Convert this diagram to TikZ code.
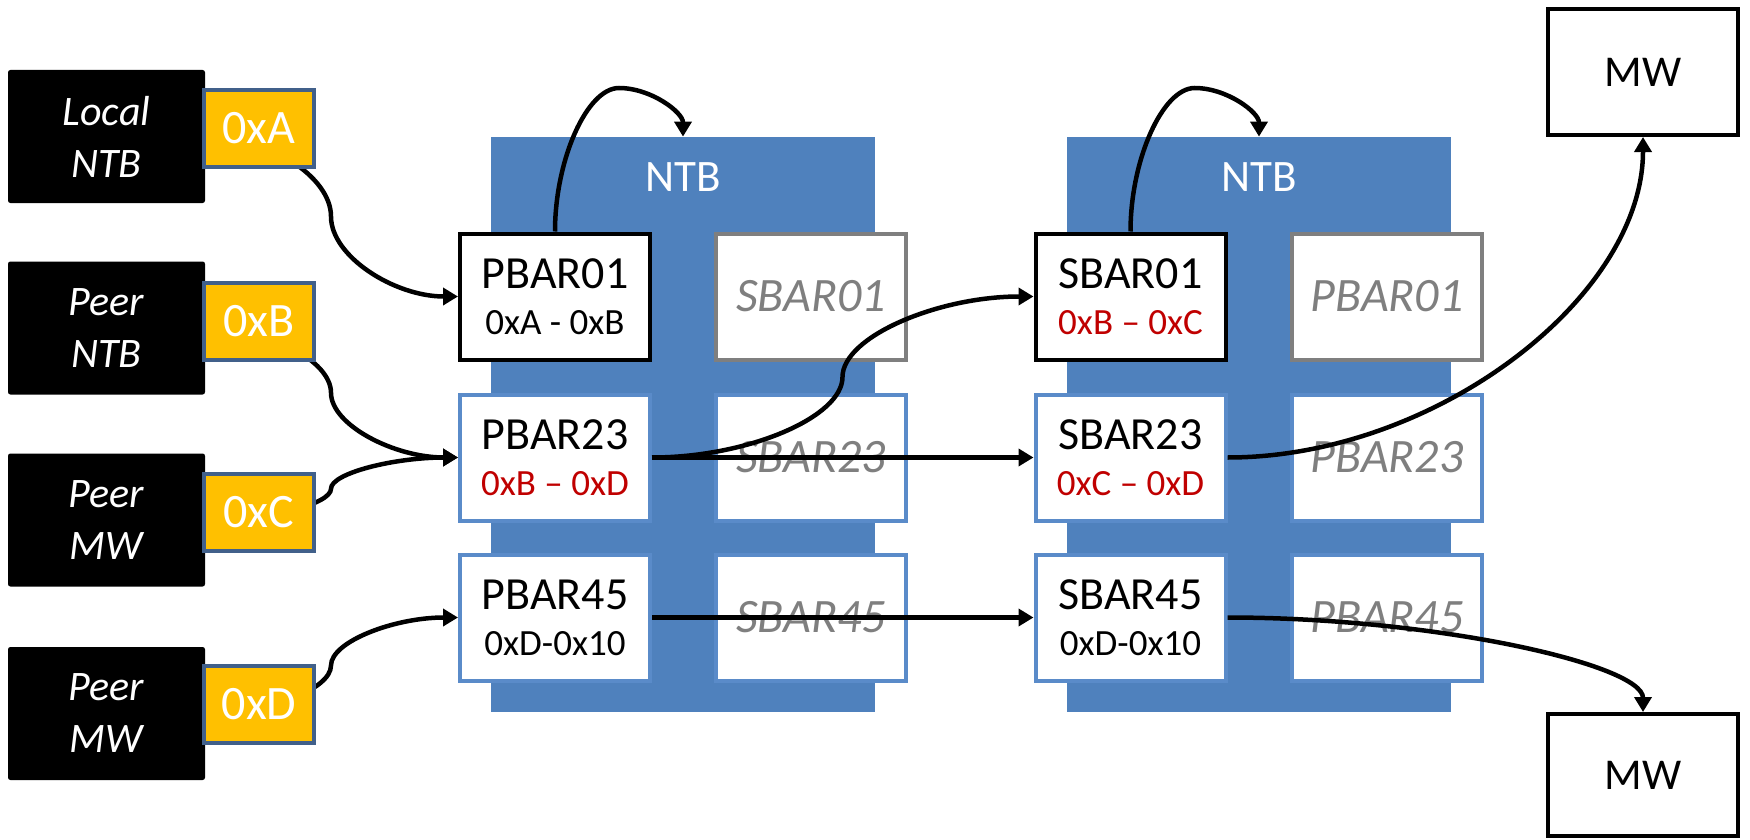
\documentclass[tikz,border=0pt]{standalone}
\usepackage{fontspec}
\setmainfont{Carlito}
\usetikzlibrary{arrows.meta,calc}

\definecolor{ntbblue}{HTML}{4F81BD}
\definecolor{barblue}{HTML}{5A8BC9}
\definecolor{addrred}{HTML}{C00000}
\definecolor{tagyellow}{HTML}{FFC000}
\definecolor{tagedge}{HTML}{41608A}
\definecolor{ghost}{HTML}{7F7F7F}

% S-shaped elbow: horizontal at both ends, vertical through the x of #3
\newcommand{\sbendconn}[3]{%
  \draw[conn] let \p1=(#1), \p2=(#2), \p3=(#3) in
    (\p1) .. controls ({(\x1+\x3)/2},\y1) and (\x3,{0.75*\y1+0.25*\y2})
          .. (\x3,{0.5*\y1+0.5*\y2})
          .. controls (\x3,{0.25*\y1+0.75*\y2}) and ({(\x3+\x2)/2},\y2)
          .. (\p2);}
% Arch: leaves upwards, peaks at the y of #3, comes down into the target
\newcommand{\archconn}[3]{%
  \draw[conn] let \p1=(#1), \p2=(#2), \p3=(#3) in
    (\p1) .. controls (\x1,{0.5*\y1+0.5*\y3}) and ({0.75*\x1+0.25*\x2},\y3)
          .. ({0.5*\x1+0.5*\x2},\y3)
          .. controls ({0.25*\x1+0.75*\x2},\y3) and (\x2,{0.5*\y2+0.5*\y3})
          .. (\p2);}
% Quarter bend: leaves horizontally, enters the target vertically
\newcommand{\quarterconn}[2]{%
  \draw[conn] let \p1=(#1), \p2=(#2) in
    (\p1) .. controls ({0.5*\x1+0.5*\x2},\y1) and (\x2,{0.5*\y1+0.5*\y2}) .. (\p2);}
% second line of a BAR box: the address range
\newcommand{\rangeline}{\fontsize{18.5}{23}\selectfont}

\begin{document}
\begin{tikzpicture}[x=0.5pt,y=-0.5pt,
  conn/.style={line width=2.25pt,-{Triangle[length=7.5pt,width=8.5pt]}},
  host/.style={fill=black,rounded corners=1.2pt,minimum width=98.5pt,
    minimum height=66.5pt,inner sep=0pt,text=white,align=center,
    font=\fontsize{21}{26}\selectfont\itshape},
  tag/.style={fill=tagyellow,draw=tagedge,line width=2pt,minimum width=55pt,
    minimum height=38.5pt,inner sep=0pt,text=white,
    font=\fontsize{24}{28}\selectfont},
  ntbbox/.style={fill=ntbblue,minimum width=192pt,minimum height=287.5pt,
    inner sep=0pt},
  ntblabel/.style={text=white,inner sep=0pt,font=\fontsize{22.5}{26}\selectfont},
  barbox/.style={fill=white,line width=2pt,minimum width=95pt,
    minimum height=63pt,inner sep=0pt,align=center,
    font=\fontsize{23}{23}\selectfont},
  usedbar/.style={barbox,draw=black},
  openbar/.style={barbox,draw=barblue},
  ghostbar/.style={barbox,draw=ghost},
  ghosttext/.style={text=ghost,font=\fontsize{24}{28}\selectfont\itshape},
  twoline/.style={text depth=1.5pt},
  mwbox/.style={draw=black,fill=white,line width=2pt,minimum width=95pt,
    minimum height=63pt,inner sep=0pt,font=\fontsize{22}{26}\selectfont},
]
\useasboundingbox (0,0) rectangle (1750,840);
\fill[white] (0,0) rectangle (1750,840);

% host windows on the left
\node[host] (lb1) at (106.5,136.5) {Local\\NTB};
\node[host] (lb2) at (106.5,328)   {Peer\\NTB};
\node[host] (lb3) at (106.5,520)   {Peer\\MW};
\node[host] (lb4) at (106.5,713.5) {Peer\\MW};

% the two NTB devices
\node[ntbbox] (ntb1) at (683,424.5) {};
\node[ntbbox] (ntb2) at (1259,424.5) {};
\node[ntblabel] (ntbt1) at (683,177)  {NTB};
\node[ntblabel] (ntbt2) at (1259,177) {NTB};

% BARs of the first NTB
\node[usedbar] (p01) at (555,296.5) {PBAR01\\\rangeline 0xA - 0xB};
\node[ghostbar,ghosttext] (s01g) at (811,296.5) {SBAR01};
\node[openbar] (p23) at (555,457.5) {PBAR23\\\rangeline\color{addrred}0xB – 0xD};
\node[openbar,ghosttext] (s23g) at (811,457.5) {SBAR23};
\node[openbar] (p45) at (555,617.5) {PBAR45\\\rangeline 0xD-0x10};
\node[openbar,ghosttext] (s45g) at (811,617.5) {SBAR45};

% BARs of the second NTB
\node[usedbar] (s01) at (1130.5,296.5) {SBAR01\\\rangeline\color{addrred}0xB – 0xC};
\node[ghostbar,ghosttext] (p01g) at (1387,296.5) {PBAR01};
\node[openbar] (s23) at (1130.5,457.5) {SBAR23\\\rangeline\color{addrred}0xC – 0xD};
\node[openbar,ghosttext] (p23g) at (1387,457.5) {PBAR23};
\node[openbar] (s45) at (1130.5,617.5) {SBAR45\\\rangeline 0xD-0x10};
\node[openbar,ghosttext] (p45g) at (1387,617.5) {PBAR45};

% memory windows on the right
\node[mwbox] (mwt) at (1643,72) {MW};
\node[mwbox,minimum height=61pt] (mwb) at (1643,775) {MW};

% bend helpers
\coordinate (bendL) at (331,0);
\coordinate (bendM) at (842.5,0);
\coordinate (peak) at (0,88);

% host windows into the primary BARs
\sbendconn{lb1.east}{p01.west}{bendL}
\sbendconn{lb2.east}{p23.west}{bendL}
\sbendconn{lb3.east}{p23.west}{bendL}
\sbendconn{lb4.east}{p45.west}{bendL}

% BAR0/1 map the NTB registers
\archconn{p01.north}{ntb1.north}{peak}
\archconn{s01.north}{ntb2.north}{peak}

% across the link
\sbendconn{p23.east}{s01.west}{bendM}
\draw[conn] (p23.east) -- (s23.west);
\draw[conn] (p45.east) -- (s45.west);

% out to memory
\quarterconn{s23.east}{mwt.south}
\quarterconn{s45.east}{mwb.north}

% address tags sit on top of the connector starts
\node[tag] (ya) at (259,128.5) {0xA};
\node[tag] (yb) at (259,321)   {0xB};
\node[tag] (yc) at (259,512.5) {0xC};
\node[tag] (yd) at (259,704)   {0xD};
\end{tikzpicture}
\end{document}
